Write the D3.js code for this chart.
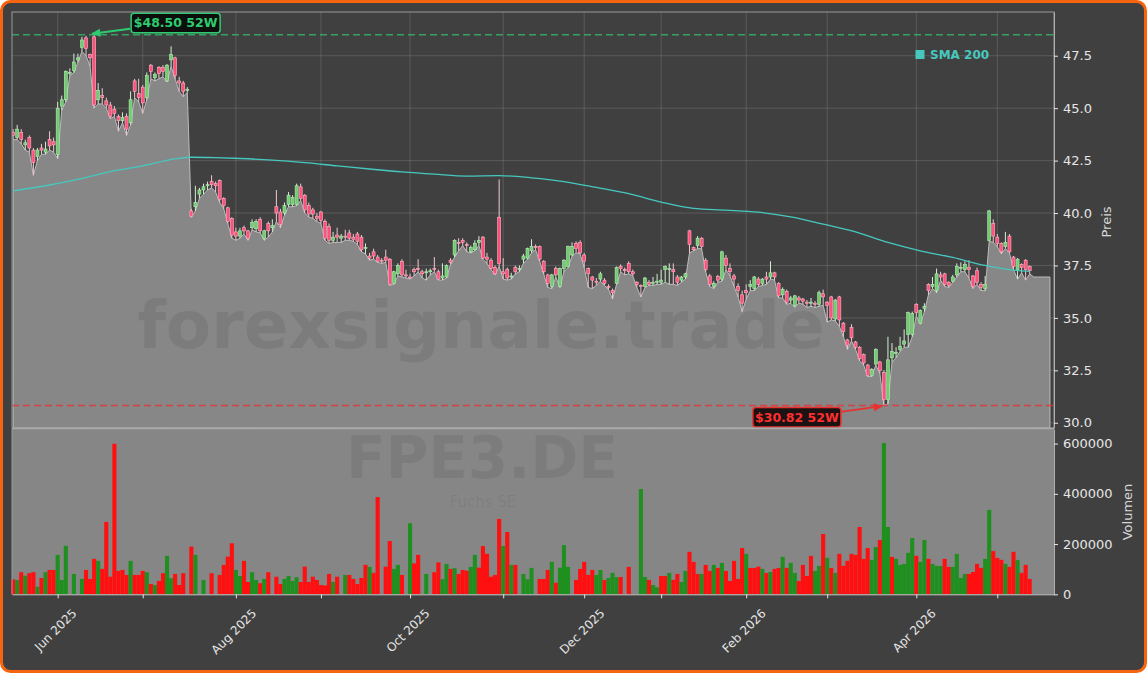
<!DOCTYPE html>
<html>
<head>
<meta charset="utf-8">
<script src="https://cdn.jsdelivr.net/npm/d3@7"></script>
<style>
  body { margin: 0; background: #ffffff; overflow: hidden; }
  text { font-family: "DejaVu Sans", sans-serif; }
</style>
</head>
<body>
<div id="chart"></div>
<script>
// FPE3.DE daily candles
var startDate = new Date(2025, 4, 16);
var holidays = ["2025-12-24","2025-12-25","2025-12-26","2025-12-31","2026-01-01","2026-04-03","2026-04-06","2026-05-01"];

var open = [43.85,43.6,43.85,43.25,43.6,43.0,42.7,43.1,42.9,43.5,
  43.4,42.8,45.1,45.4,46.7,46.8,47.3,47.9,48.35,47.55,
  48.4,45.4,45.6,45.35,45.15,44.95,44.6,44.4,44.6,44.3,
  46.3,45.7,46.0,45.5,47.05,46.45,46.95,46.95,46.3,47.3,
  47.4,46.3,46.2,45.85,40.1,40.3,40.9,41.1,41.3,41.5,
  41.4,41.55,40.7,40.25,39.75,39.1,38.9,39.3,39.15,39.3,
  39.25,39.7,38.8,39.5,39.3,40.3,40.05,40.0,40.4,40.4,
  40.4,41.25,40.85,40.35,40.15,39.85,40.05,39.6,39.35,38.7,
  38.95,38.8,38.9,39.05,38.85,39.0,38.85,38.3,37.95,38.15,
  37.9,37.75,37.9,37.8,36.65,37.1,37.7,37.05,36.95,37.3,
  37.35,37.2,37.15,37.2,37.35,37.2,36.9,36.95,37.75,38.0,
  38.6,38.7,38.5,38.15,38.25,38.6,38.85,37.9,37.75,37.4,
  39.8,37.2,37.3,36.95,37.4,37.3,37.8,37.85,38.2,38.4,
  38.4,37.7,37.05,36.5,37.35,36.5,37.35,37.45,38.0,38.55,
  38.6,38.0,37.35,36.95,36.75,36.85,36.8,36.5,36.3,36.65,
  37.45,37.3,37.6,37.2,36.7,36.55,36.5,36.7,36.65,36.7,
  36.7,37.3,37.3,37.3,36.95,36.8,36.95,39.15,38.35,38.45,
  38.8,37.75,37.0,36.5,36.97,36.85,37.85,37.35,37.0,36.5,
  36.1,36.3,36.5,36.4,36.85,36.65,36.95,36.95,37.15,36.65,
  36.1,36.25,35.85,35.6,35.95,35.9,35.75,35.7,35.7,35.65,
  36.15,35.75,36.0,34.95,36.0,34.75,33.95,34.55,33.85,33.6,
  33.25,32.75,32.25,32.8,32.9,32.4,31.1,33.1,33.3,33.5,
  33.75,34.2,34.2,35.65,34.75,35.45,36.6,36.5,36.3,37.05,
  37.1,36.7,36.75,37.05,37.35,37.3,37.4,37.0,37.25,36.6,
  36.4,38.7,39.5,38.85,38.55,38.4,38.9,37.9,37.3,37.55,
  37.75,37.45];

var high = [44.0,44.2,44.0,43.5,43.7,43.1,43.1,43.3,43.4,43.9,
  43.6,45.3,45.6,46.8,46.9,47.6,47.6,48.4,48.45,47.6,
  48.5,46.2,45.95,45.5,45.3,45.1,44.7,44.8,44.75,45.8,
  46.4,46.4,46.1,46.7,47.1,46.7,47.0,47.05,47.1,47.95,
  47.45,46.5,46.3,46.0,40.2,41.3,41.2,41.4,41.5,41.8,
  41.5,41.6,40.75,40.3,39.8,39.3,39.3,39.4,39.2,39.7,
  39.7,39.8,39.2,39.6,39.7,41.1,40.2,40.5,41.0,40.85,
  41.4,41.4,40.9,40.5,40.25,40.0,40.1,39.7,39.5,39.1,
  39.3,39.0,39.2,39.2,39.0,39.1,38.95,38.55,38.1,38.3,
  38.0,37.85,38.25,37.85,37.25,37.6,37.8,37.3,37.1,37.4,
  37.8,37.3,37.35,37.35,37.9,37.3,37.6,37.55,37.85,38.75,
  38.8,38.8,38.6,38.45,38.7,38.9,38.9,38.1,37.85,37.5,
  41.6,37.85,37.4,37.15,37.5,37.5,38.05,38.35,38.75,38.5,
  38.45,37.75,37.1,37.1,37.45,37.4,37.8,38.45,38.6,38.65,
  38.7,38.1,37.4,37.0,36.9,37.2,36.9,36.6,36.4,37.45,
  37.55,37.4,37.7,37.3,36.75,36.6,36.95,36.8,36.95,37.1,
  37.3,37.5,37.6,37.6,37.05,37.0,37.15,39.2,38.4,38.9,
  38.85,37.85,37.1,36.75,37.05,38.2,38.0,37.6,37.1,36.65,
  36.3,36.6,36.8,37.0,36.95,36.9,37.2,37.7,37.2,36.7,
  36.45,36.35,36.05,36.1,36.05,35.95,35.85,35.95,35.8,36.3,
  36.35,35.8,36.05,35.9,36.05,34.8,34.0,34.7,33.9,33.65,
  33.3,32.8,32.6,33.55,32.95,32.5,34.1,33.8,33.6,34.1,
  34.45,35.3,35.3,35.7,35.4,35.7,36.65,36.95,37.35,37.2,
  37.15,36.75,37.05,37.6,37.65,37.7,37.75,37.05,37.4,36.7,
  37.0,40.15,39.7,39.0,38.6,39.1,39.0,37.95,37.85,37.6,
  37.8,37.5];

var low = [43.5,43.5,43.3,43.0,42.9,41.8,42.5,42.8,42.8,43.0,
  42.9,42.6,44.9,45.3,46.55,46.7,47.2,47.7,47.5,47.0,
  45.0,45.2,45.2,45.0,44.5,44.6,43.9,44.3,43.7,44.2,
  45.5,45.3,44.75,45.4,46.4,46.3,46.4,46.5,46.25,47.0,
  46.4,45.8,45.55,45.75,39.8,40.1,40.7,40.9,41.1,41.2,
  41.0,40.5,40.2,39.5,38.8,38.7,38.8,39.0,38.7,39.2,
  39.1,39.05,38.7,38.85,39.1,39.6,39.3,39.9,40.3,40.3,
  40.35,40.6,40.0,39.8,39.75,39.6,39.5,38.7,38.55,38.6,
  38.6,38.6,38.7,38.7,38.65,38.5,38.15,38.05,37.75,37.8,
  37.65,37.6,37.65,36.55,36.6,37.0,36.95,36.9,36.85,37.0,
  37.2,36.9,36.8,37.05,37.2,36.8,36.8,36.9,37.55,37.9,
  38.2,38.45,38.15,38.1,38.2,38.45,37.8,37.6,37.3,37.05,
  37.45,36.85,36.8,36.85,37.1,37.2,37.6,37.8,38.1,38.25,
  37.7,37.1,36.45,36.4,36.95,36.45,37.2,37.4,37.95,38.1,
  38.05,37.4,36.45,36.4,36.55,36.75,36.55,36.35,35.9,36.6,
  37.2,37.05,37.1,37.0,36.45,36.0,36.45,36.55,36.55,36.6,
  36.6,36.7,36.6,36.6,36.55,36.7,36.85,38.1,38.2,38.3,
  38.3,37.2,36.5,36.4,36.7,36.75,37.3,37.0,36.5,36.0,
  35.3,35.9,36.3,36.3,36.5,36.55,36.6,36.85,36.8,35.95,
  35.95,35.65,35.7,35.5,35.7,35.65,35.5,35.55,35.5,35.55,
  35.6,34.8,34.9,34.85,34.6,34.1,33.5,33.9,33.5,32.95,
  32.75,32.2,32.2,32.75,32.35,30.82,30.9,32.9,33.1,33.4,
  33.6,33.6,34.1,35.1,34.7,35.3,36.1,36.4,36.2,36.8,
  36.5,36.45,36.7,36.95,37.2,37.2,36.9,36.4,36.6,36.3,
  36.3,38.65,38.6,38.4,38.05,38.3,38.1,37.3,36.85,37.15,
  36.8,37.1];

var close = [43.7,44.0,43.5,43.35,43.1,42.4,43.0,43.0,43.05,43.2,
  43.25,45.0,45.4,46.75,46.7,47.2,47.4,48.25,47.85,47.4,
  45.15,45.85,45.5,45.15,44.6,44.75,44.4,44.55,44.0,45.4,
  45.8,45.5,45.25,46.55,46.75,46.6,46.65,46.75,47.05,47.55,
  46.55,46.2,45.8,45.9,39.85,40.5,41.1,41.25,41.35,41.35,
  41.3,40.65,40.35,39.6,38.95,38.9,39.15,39.15,38.8,39.55,
  39.6,39.15,39.15,39.15,39.4,40.0,39.45,40.35,40.85,40.75,
  41.3,40.7,40.15,39.95,39.95,39.75,39.65,38.8,38.7,38.85,
  38.85,38.9,38.85,38.8,38.75,38.65,38.25,38.35,37.85,37.95,
  37.7,37.7,37.75,36.6,37.2,37.5,37.05,37.0,36.9,37.2,
  37.3,37.1,37.2,37.25,37.3,36.85,37.0,37.5,37.65,38.7,
  38.55,38.6,38.45,38.35,38.55,38.7,37.85,37.8,37.35,37.1,
  37.6,37.1,36.9,37.0,37.2,37.35,37.95,38.3,38.4,38.35,
  37.8,37.2,36.65,37.05,37.05,37.35,37.75,38.4,38.4,38.3,
  38.1,37.7,37.1,36.8,36.7,37.1,36.65,36.45,36.2,37.4,
  37.35,37.25,37.2,37.1,36.6,36.5,36.9,36.6,36.7,36.75,
  36.8,37.45,37.35,37.2,36.7,36.95,37.1,38.5,38.25,38.8,
  38.4,37.3,36.6,36.65,36.8,38.15,37.5,37.2,36.85,36.3,
  35.7,36.2,36.6,36.95,36.6,36.85,36.85,37.15,36.95,36.05,
  36.35,35.75,35.95,36.05,35.85,35.8,35.7,35.75,35.65,36.2,
  36.0,35.6,35.0,35.85,34.9,34.35,33.7,34.05,33.6,33.05,
  32.85,32.25,32.55,33.5,32.5,31.1,33.0,33.4,33.35,33.65,
  33.9,35.25,35.2,35.25,35.35,35.55,36.3,36.6,37.1,36.95,
  36.6,36.55,36.95,37.45,37.4,37.55,37.3,36.5,36.7,36.45,
  36.6,40.1,38.9,38.55,38.15,38.6,38.15,37.45,37.8,37.4,
  37.3,37.25];

var volume = [59000,57000,88000,74000,84000,88000,30000,65000,88000,97000,
  97000,157000,57000,193000,0,81000,0,61000,97000,61000,
  141000,133000,101000,288000,70000,599000,93000,97000,77000,133000,
  77000,77000,93000,88000,41000,37000,53000,84000,153000,64000,
  81000,37000,84000,0,190000,157000,0,57000,0,84000,
  0,77000,117000,150000,203000,97000,73000,133000,49000,88000,
  57000,44000,61000,88000,0,70000,41000,61000,73000,53000,
  68000,49000,110000,49000,70000,57000,37000,35000,81000,49000,
  70000,0,77000,77000,61000,41000,65000,117000,109000,85000,
  387000,0,110000,212000,101000,117000,77000,0,283000,123000,
  157000,0,81000,0,88000,127000,60000,121000,101000,104000,
  81000,97000,94000,109000,157000,106000,192000,161000,70000,77000,
  300000,192000,248000,117000,117000,0,81000,60000,105000,0,
  61000,61000,97000,129000,46000,106000,196000,109000,0,57000,
  101000,129000,77000,97000,77000,97000,57000,65000,85000,68000,
  69000,0,109000,0,0,419000,69000,57000,37000,28000,
  73000,73000,85000,57000,81000,49000,93000,169000,129000,81000,
  81000,117000,93000,117000,105000,125000,93000,53000,133000,61000,
  184000,161000,105000,105000,110000,101000,85000,89000,101000,105000,
  149000,105000,125000,85000,53000,117000,73000,153000,93000,113000,
  240000,145000,105000,85000,161000,113000,133000,161000,157000,268000,
  141000,184000,137000,188000,216000,602000,268000,149000,141000,117000,
  121000,165000,224000,153000,129000,216000,141000,121000,113000,113000,
  141000,109000,109000,161000,65000,81000,81000,89000,121000,105000,
  141000,336000,172000,145000,137000,121000,109000,169000,137000,85000,
  117000,61000];

// + = green volume bar, - = red volume bar
var volDir = ("-+-+--+-+-" + "-+++++++--" + "-+-------+" + "---+-+--++" + "---+-++++-" +
  "+----++--+" + "+-+-+--+++" + "+--------+" + "-++-----+-" + "-+--++-++-" +
  "-+++--++-+" + "---++-----" + "-+-+-+++++" + "---+-++++-" + "----++-+++" +
  "-+-++++-++" + "--+--++---" + "+--+-+----" + "-+---+-+--" + "+-++----++" +
  "-+-+------" + "--++-++-++" + "+++-++-+++" + "--++++----" + "++---+--+-" + "--").split("");

// SMA 200 read at a few points
var smaIdx = [0,8,16,24,32,40,44,50,56,64,72,80,88,96,104,112,120,128,136,144,152,160,168,176,184,192,200,208,216,224,232,240,246,251];
var smaVal = [41.06,41.30,41.60,41.97,42.25,42.58,42.66,42.64,42.60,42.52,42.40,42.25,42.10,41.96,41.85,41.76,41.78,41.68,41.50,41.22,40.92,40.52,40.22,40.14,40.04,39.82,39.47,39.10,38.60,38.20,37.88,37.50,37.30,37.22];

var priceTicks = [30, 32.5, 35, 37.5, 40, 42.5, 45, 47.5];
var volTicks = [0, 200000, 400000, 600000];
var tailLow = 36.95, tailEnd = 256;

var width = 1147, height = 673;
var left = 12, right = 1054, pTop = 12, pBottom = 428, vTop = 429, vBottom = 594.3;

// trading days
var fmt = d3.timeFormat("%Y-%m-%d");
var days = [];
var d = new Date(startDate);
while (days.length < open.length) {
  if (d.getDay() != 0 && d.getDay() != 6 && holidays.indexOf(fmt(d)) < 0) days.push(new Date(d));
  d.setDate(d.getDate() + 1);
}
var monthTicks = [];
for (var i = 1; i < days.length; i++) {
  if (days[i].getMonth() != days[i-1].getMonth()) monthTicks.push(i);
}

var x = d3.scaleLinear().domain([-0.28, 257]).range([left, right]);
var y = d3.scaleLinear().domain([29.75, 49.585]).range([pBottom, pTop]);
var yv = d3.scaleLinear().domain([0, 658000]).range([vBottom, vTop]);

var svg = d3.select("#chart").append("svg").attr("width", width).attr("height", height);
var defs = svg.append("defs");
defs.append("clipPath").attr("id", "pclip").append("rect")
  .attr("x", left).attr("y", pTop).attr("width", right - left).attr("height", pBottom - pTop);

function arrowMarker(id, color) {
  defs.append("marker").attr("id", id).attr("viewBox", "0 0 10 10")
    .attr("refX", 9).attr("refY", 5).attr("markerWidth", 5).attr("markerHeight", 5)
    .attr("orient", "auto")
    .append("path").attr("d", "M0,0.5 L10,5 L0,9.5 z").attr("fill", color);
}
arrowMarker("arrG", "#2ecc71");
arrowMarker("arrR", "#e8312f");

// background + orange frame
svg.append("rect").attr("x", 1.5).attr("y", 1.5).attr("width", width - 3).attr("height", height - 3)
  .attr("rx", 9).attr("fill", "#404040").attr("stroke", "#f5650f").attr("stroke-width", 3);

// grid
var grid = svg.append("g");
grid.selectAll("line.v").data(monthTicks).enter().append("line")
  .attr("x1", function(d) { return x(d); }).attr("x2", function(d) { return x(d); })
  .attr("y1", pTop).attr("y2", pBottom)
  .attr("stroke", "#8a8a8a").attr("stroke-opacity", 0.45).attr("stroke-width", 0.8);
grid.selectAll("line.h").data(priceTicks).enter().append("line")
  .attr("x1", left).attr("x2", right)
  .attr("y1", function(d) { return y(d); }).attr("y2", function(d) { return y(d); })
  .attr("stroke", "#8a8a8a").attr("stroke-opacity", 0.45).attr("stroke-width", 0.8);

// volume panel background
svg.append("rect").attr("x", left).attr("y", vTop).attr("width", right - left).attr("height", vBottom - vTop)
  .attr("fill", "#868686");

// price area (lows)
var areaData = low.map(function(v, i) { return {i: i, v: v}; });
areaData.push({i: open.length, v: tailLow});
areaData.push({i: tailEnd, v: tailLow});
var plot = svg.append("g").attr("clip-path", "url(#pclip)");
plot.append("path").datum(areaData)
  .attr("d", d3.area().x(function(d) { return x(d.i); }).y0(pBottom).y1(function(d) { return y(d.v); }))
  .attr("fill", "#878787").attr("stroke", "#bcbcbc").attr("stroke-width", 1);

// watermark
svg.append("text").attr("x", 481).attr("y", 348).attr("text-anchor", "middle")
  .attr("font-size", 66).attr("font-weight", "bold").attr("fill", "#000").attr("fill-opacity", 0.08)
  .text("forexsignale.trade");
svg.append("text").attr("x", 482).attr("y", 478).attr("text-anchor", "middle")
  .attr("font-size", 58).attr("font-weight", "bold").attr("fill", "#000").attr("fill-opacity", 0.07)
  .text("FPE3.DE");
svg.append("text").attr("x", 483).attr("y", 507).attr("text-anchor", "middle")
  .attr("font-size", 15).attr("fill", "#000").attr("fill-opacity", 0.07)
  .text("Fuchs SE");

// candles
var idx = d3.range(open.length);
var candles = plot.append("g").selectAll("g").data(idx).enter().append("g");
candles.append("line")
  .attr("x1", function(i) { return x(i); }).attr("x2", function(i) { return x(i); })
  .attr("y1", function(i) { return y(high[i]); }).attr("y2", function(i) { return y(low[i]); })
  .attr("stroke", function(i) { return close[i] >= open[i] ? "#d4eed4" : "#f2c6d2"; })
  .attr("stroke-width", 1);
candles.append("rect")
  .attr("x", function(i) { return x(i) - 1.5; }).attr("width", 3)
  .attr("y", function(i) { return y(Math.max(open[i], close[i])); })
  .attr("height", function(i) { return Math.max(1, Math.abs(y(open[i]) - y(close[i]))); })
  .attr("fill", function(i) { return close[i] >= open[i] ? "#6fcc6f" : "#ff507c"; })
  .attr("stroke", function(i) { return close[i] >= open[i] ? "#b8ecb8" : "#ffb3c6"; })
  .attr("stroke-width", 0.6);

// SMA 200
plot.append("path")
  .datum(smaIdx.map(function(v, k) { return [v, smaVal[k]]; }))
  .attr("d", d3.line().curve(d3.curveMonotoneX).x(function(d) { return x(d[0]); }).y(function(d) { return y(d[1]); }))
  .attr("fill", "none").attr("stroke", "#46c8bf").attr("stroke-width", 1.3);

// 52W high / low
var hiVal = d3.max(high), loVal = d3.min(low);
var hiIdx = high.indexOf(hiVal), loIdx = low.indexOf(loVal);
svg.append("line").attr("x1", left).attr("x2", right).attr("y1", y(hiVal)).attr("y2", y(hiVal))
  .attr("stroke", "#2ecc71").attr("stroke-opacity", 0.7).attr("stroke-width", 1.5).attr("stroke-dasharray", "7,4");
svg.append("line").attr("x1", left).attr("x2", right).attr("y1", y(loVal)).attr("y2", y(loVal))
  .attr("stroke", "#e8312f").attr("stroke-opacity", 0.8).attr("stroke-width", 1.5).attr("stroke-dasharray", "7,4");

var hx = x(hiIdx) - 3, hy = y(hiVal);
svg.append("line").attr("x1", hx + 39).attr("y1", hy - 6).attr("x2", hx + 1).attr("y2", hy - 1)
  .attr("stroke", "#2ecc71").attr("stroke-width", 1.8).attr("marker-end", "url(#arrG)");
svg.append("rect").attr("x", hx + 40).attr("y", hy - 21.5).attr("width", 89).attr("height", 19.5).attr("rx", 3)
  .attr("fill", "#0c0f0c").attr("stroke", "#2ecc71").attr("stroke-width", 1.5);
svg.append("text").attr("x", hx + 84.5).attr("y", hy - 7.3).attr("text-anchor", "middle")
  .attr("font-size", 12.5).attr("font-weight", "bold").attr("fill", "#2ecc71")
  .text("$" + d3.format(".2f")(hiVal) + " 52W");

var lx = x(loIdx) - 1, ly = y(loVal);
svg.append("line").attr("x1", lx - 41).attr("y1", ly + 6).attr("x2", lx - 1).attr("y2", ly + 0.5)
  .attr("stroke", "#e8312f").attr("stroke-width", 1.8).attr("marker-end", "url(#arrR)");
svg.append("rect").attr("x", lx - 130).attr("y", ly + 2).attr("width", 88).attr("height", 19.5).attr("rx", 3)
  .attr("fill", "#1c1212").attr("stroke", "#e8312f").attr("stroke-width", 1.5);
svg.append("text").attr("x", lx - 86).attr("y", ly + 16.3).attr("text-anchor", "middle")
  .attr("font-size", 12.5).attr("font-weight", "bold").attr("fill", "#ff2f2f")
  .text("$" + d3.format(".2f")(loVal) + " 52W");

// legend
svg.append("rect").attr("x", 915.5).attr("y", 50).attr("width", 9).attr("height", 9).attr("fill", "#46c8bf");
svg.append("text").attr("x", 930).attr("y", 58.5).attr("font-size", 12).attr("font-weight", "bold")
  .attr("fill", "#46c8bf").text("SMA 200");

// volume bars
svg.append("g").selectAll("rect").data(idx).enter().append("rect")
  .attr("x", function(i) { return x(i) - 2.05; }).attr("width", 4.1)
  .attr("y", function(i) { return yv(volume[i]); })
  .attr("height", function(i) { return vBottom - yv(volume[i]); })
  .attr("fill", function(i) { return volDir[i] == "+" ? "#1f901f" : "#ff0f0f"; });

// spines
svg.append("rect").attr("x", left).attr("y", pTop).attr("width", right - left).attr("height", pBottom - pTop)
  .attr("fill", "none").attr("stroke", "#9a9a9a").attr("stroke-width", 1);
svg.append("line").attr("x1", left).attr("x2", right).attr("y1", pBottom + 0.5).attr("y2", pBottom + 0.5)
  .attr("stroke", "#ababab").attr("stroke-width", 1.5);
svg.append("line").attr("x1", left).attr("x2", left).attr("y1", vTop).attr("y2", vBottom)
  .attr("stroke", "#9a9a9a");

// axes
function styleAxis(g) {
  g.select(".domain").attr("stroke", "#b0b0b0");
  g.selectAll(".tick line").attr("stroke", "#e6e6e6");
  g.selectAll(".tick text").attr("fill", "#e6e6e6").attr("font-size", 13)
    .attr("font-family", "DejaVu Sans, sans-serif");
}
svg.append("g").attr("transform", "translate(" + right + ",0)")
  .call(d3.axisRight(y).tickValues(priceTicks).tickFormat(d3.format(".1f")).tickSize(4).tickPadding(5).tickSizeOuter(0))
  .call(styleAxis);
svg.append("g").attr("transform", "translate(" + right + ",0)")
  .call(d3.axisRight(yv).tickValues(volTicks).tickFormat(d3.format("d")).tickSize(4).tickPadding(5).tickSizeOuter(0))
  .call(styleAxis);
var xg = svg.append("g").attr("transform", "translate(0," + vBottom + ")")
  .call(d3.axisBottom(x).tickValues(monthTicks).tickFormat("").tickSize(4).tickSizeOuter(0))
  .call(styleAxis);
xg.select(".domain").attr("stroke", "#c8c8c8");

var monthFmt = d3.timeFormat("%b %Y");
monthTicks.forEach(function(t, k) {
  if (k % 2 != 0) return;
  var lab = svg.append("text").attr("font-size", 12).attr("fill", "#e6e6e6")
    .attr("text-anchor", "middle").attr("dominant-baseline", "central")
    .text(monthFmt(days[t]));
  var len = lab.node().getComputedTextLength();
  var h = (len + 14) * 0.7071;
  lab.attr("transform", "translate(" + (x(t) - 2) + "," + (vBottom + 12 + h / 2) + ") rotate(-45)");
});

// axis titles
svg.append("text").attr("transform", "translate(1111,222) rotate(-90)").attr("text-anchor", "middle")
  .attr("font-size", 13).attr("fill", "#d8d8d8").text("Preis");
svg.append("text").attr("transform", "translate(1132,512) rotate(-90)").attr("text-anchor", "middle")
  .attr("font-size", 13).attr("fill", "#d8d8d8").text("Volumen");
</script>
</body>
</html>
